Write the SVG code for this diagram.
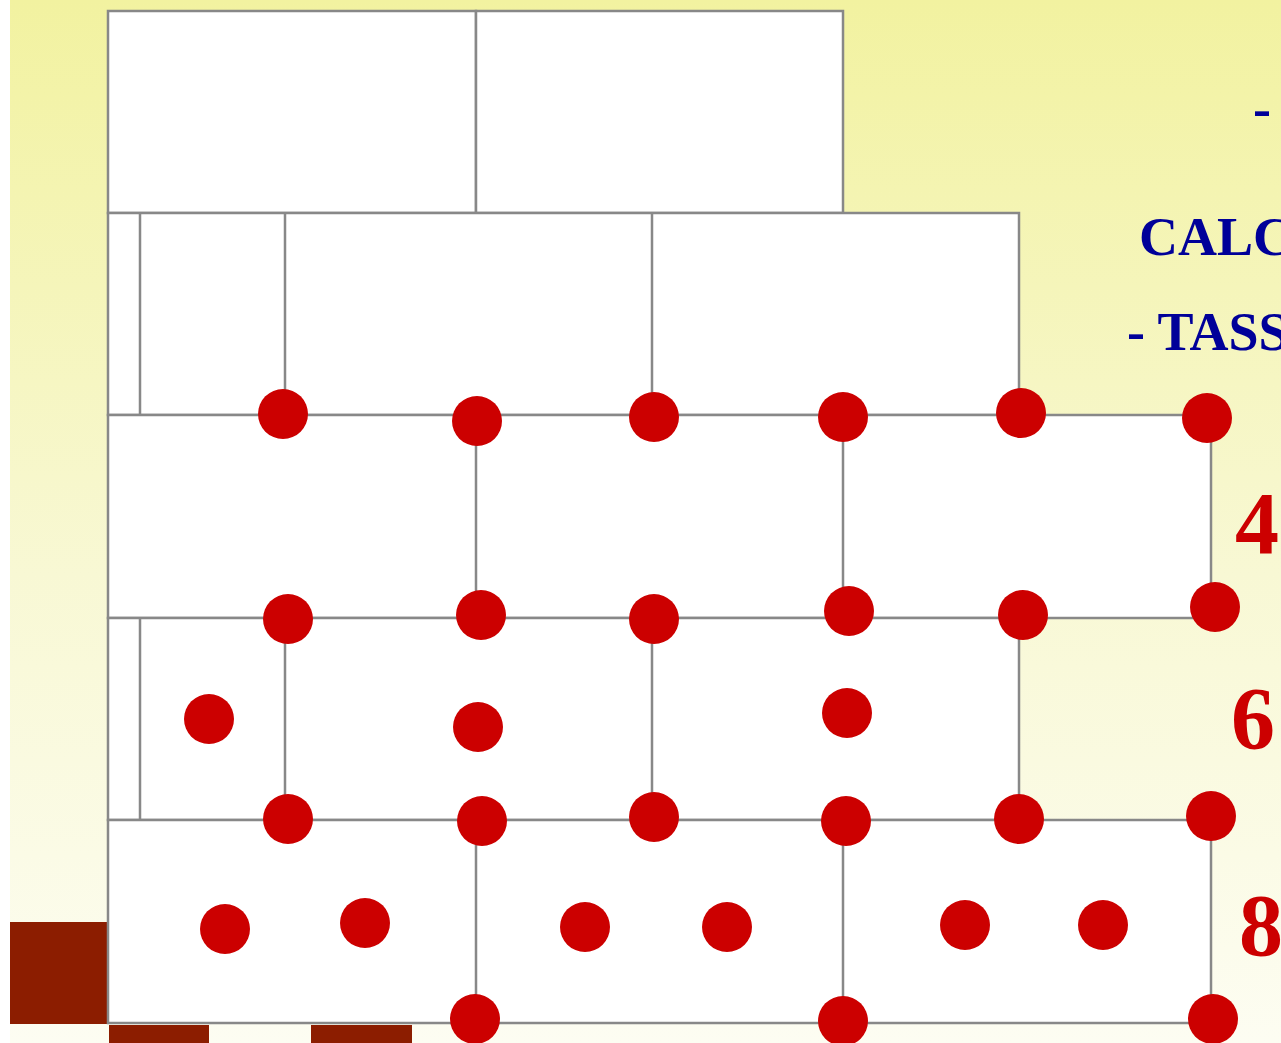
<svg xmlns="http://www.w3.org/2000/svg" width="1281" height="1043" viewBox="0 0 1281 1043">
<defs>
<linearGradient id="bg" x1="0" y1="0" x2="0" y2="1">
<stop offset="0" stop-color="#f2f2a0"/>
<stop offset="0.55" stop-color="#f8f8d4"/>
<stop offset="1" stop-color="#fdfdf2"/>
</linearGradient>
</defs>
<style>
.b{fill:#fff;stroke:#888;stroke-width:2.5}
.l{stroke:#888;stroke-width:2.5;fill:none}
.d{fill:#cc0000}
.br{fill:#8c1d00}
.t{font-family:"Liberation Serif",serif;font-weight:bold;fill:#000099;font-size:54px}
.n{font-family:"Liberation Serif",serif;font-weight:bold;fill:#cc0000;font-size:88px}
</style>
<rect x="0" y="0" width="1281" height="1043" fill="#fff"/>
<rect x="10" y="0" width="1271" height="1043" fill="url(#bg)"/>
<g id="squares">
<rect class="br" x="10" y="922" width="98" height="102"/>
<rect class="br" x="109" y="1025" width="100" height="18"/>
<rect class="br" x="311" y="1025" width="101" height="18"/>
</g>
<g id="wall">
<rect class="b" x="108" y="11" width="368" height="202"/>
<rect class="b" x="476" y="11" width="367" height="202"/>
<rect class="b" x="108" y="213" width="911" height="202"/>
<path class="l" d="M140 213V415M285 213V415M652 213V415"/>
<rect class="b" x="108" y="415" width="1103" height="203"/>
<path class="l" d="M476 415V618M843 415V618"/>
<rect class="b" x="108" y="618" width="911" height="202"/>
<path class="l" d="M140 618V820M285 618V820M652 618V820"/>
<rect class="b" x="108" y="820" width="1103" height="203"/>
<path class="l" d="M476 820V1023M843 820V1023"/>
</g>
<g id="dots">
<circle class="d" cx="283" cy="414" r="25"/>
<circle class="d" cx="477" cy="421" r="25"/>
<circle class="d" cx="654" cy="417" r="25"/>
<circle class="d" cx="843" cy="417" r="25"/>
<circle class="d" cx="1021" cy="413" r="25"/>
<circle class="d" cx="1207" cy="418" r="25"/>
<circle class="d" cx="288" cy="619" r="25"/>
<circle class="d" cx="481" cy="615" r="25"/>
<circle class="d" cx="654" cy="619" r="25"/>
<circle class="d" cx="849" cy="611" r="25"/>
<circle class="d" cx="1023" cy="615" r="25"/>
<circle class="d" cx="1215" cy="607" r="25"/>
<circle class="d" cx="209" cy="719" r="25"/>
<circle class="d" cx="478" cy="727" r="25"/>
<circle class="d" cx="847" cy="713" r="25"/>
<circle class="d" cx="288" cy="819" r="25"/>
<circle class="d" cx="482" cy="821" r="25"/>
<circle class="d" cx="654" cy="817" r="25"/>
<circle class="d" cx="846" cy="821" r="25"/>
<circle class="d" cx="1019" cy="819" r="25"/>
<circle class="d" cx="1211" cy="816" r="25"/>
<circle class="d" cx="225" cy="929" r="25"/>
<circle class="d" cx="365" cy="923" r="25"/>
<circle class="d" cx="585" cy="927" r="25"/>
<circle class="d" cx="727" cy="927" r="25"/>
<circle class="d" cx="965" cy="925" r="25"/>
<circle class="d" cx="1103" cy="925" r="25"/>
<circle class="d" cx="475" cy="1019" r="25"/>
<circle class="d" cx="843" cy="1021" r="25"/>
<circle class="d" cx="1213" cy="1019" r="25"/>
</g>
<g id="labels">
<text class="t" x="1253" y="127">-</text>
<text class="t" x="1139" y="255">CALC</text>
<text class="t" x="1127" y="350">- TASS</text>
<text class="n" x="1235" y="553">4</text>
<text class="n" x="1231" y="748">6</text>
<text class="n" x="1239" y="955">8</text>
</g>
</svg>
